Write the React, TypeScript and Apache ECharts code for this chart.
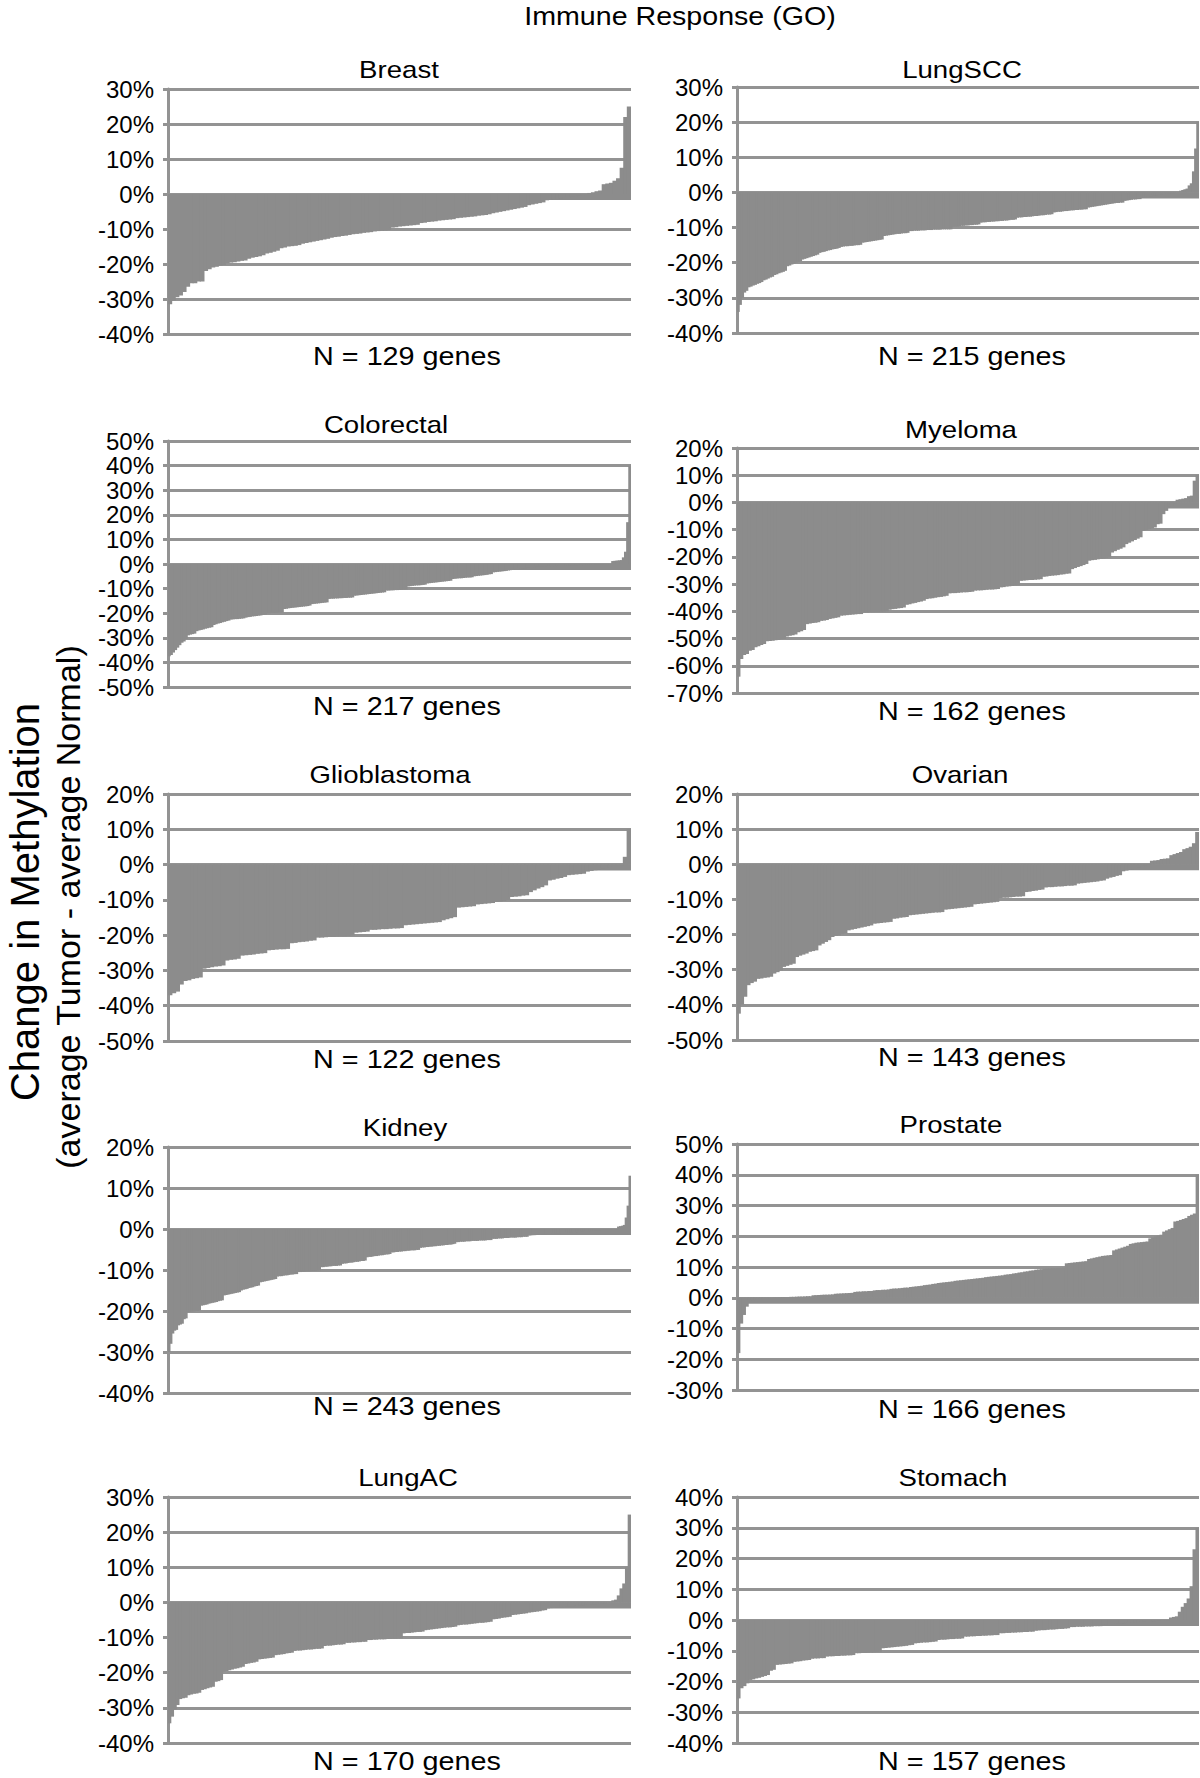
import React, { useEffect, useRef } from "react";
import * as echarts from "echarts";

// ---------- DATA (percent change in methylation, sorted per cancer type) ----------
const breast = [-31.5,-30.5,-29.5,-29,-28,-26.5,
-25.5,-25.5,-25,-25,
-22,-21.5,-21,-20.8,-20.5,-20.3,
-19.8,-19.6,-19.5,-19.3,-19.1,-19,
-18.5,-18.2,-18,-17.8,-17.5,
-17,-16.8,-16.5,-16.2,
-15.5,-15.3,-15,-14.9,-14.8,-14.6,
-14.2,-14,-13.8,-13.6,-13.4,-13.2,-13,-12.8,
-12.5,-12.3,-12.2,-12,-11.9,-11.7,-11.5,-11.4,-11.3,-11.1,
-11,-10.9,-10.7,-10.6,-10.5,-10.4,-10.3,
-9.6,-9.5,-9.3,-9.2,-9.1,-9,-8.9,-8.8,
-8.3,-8.2,-8,-7.9,-7.8,-7.6,-7.5,-7.4,-7.3,-7.2,
-6.9,-6.8,-6.7,-6.6,-6.5,-6.4,-6.2,-6.1,-6,-5.8,
-5.5,-5.3,-5.1,-4.9,-4.7,-4.5,-4.3,-4.1,-3.9,-3.7,
-3.2,-3,-2.8,-2.6,-2.4,
-1.8,-1.6,-1.5,-1.3,-1.2,-1,-0.9,-0.7,-0.6,-0.4,-0.3,-0.1,
0.3,0.5,0.8,1,
2.8,3,3.2,
3.8,4.5,
7.5,22,25];

const lungSCC = [-34,-32,-30,-28.5,-28,
-27,-26.8,
-26.5,-26.3,-26,-25.8,-25.5,
-25,-24.8,-24.5,-24.2,-24,
-23.5,-23.3,-23,-22.8,-22.6,-22.3,
-21,-20.8,-20.5,-20.3,-20,-19.8,-19.6,
-19.1,-18.9,-18.7,-18.5,-18.3,-18.1,-17.9,-17.7,
-17.2,-17,-16.9,-16.7,-16.5,-16.4,-16.2,-16.1,-16,-15.8,
-15.5,-15.4,-15.3,-15.3,-15.2,-15.2,-15.1,-15,-15,-14.9,
-14.3,-14.2,-14.1,-14,-13.9,-13.8,-13.7,-13.6,-13.5,-13.4,
-12.4,-12.3,-12.2,-12.1,-12,-11.9,-11.8,-11.8,-11.7,-11.6,-11.6,-11.5,
-11,-11,-10.9,-10.9,-10.9,-10.8,-10.8,-10.8,-10.7,-10.7,-10.7,-10.6,-10.6,-10.6,-10.6,-10.5,-10.5,-10.5,-10.5,-10.5,
-9.8,-9.7,-9.7,-9.6,-9.5,-9.5,-9.4,-9.4,-9.3,-9.3,-9.2,-9.2,-9.1,
-8.6,-8.5,-8.5,-8.4,-8.4,-8.3,-8.3,-8.2,-8.2,-8.1,-8.1,-8,-8,-7.9,-7.8,-7.8,-7.7,
-7.2,-7.1,-7.1,-7,-7,-6.9,-6.9,-6.8,-6.7,-6.7,-6.6,-6.5,-6.5,-6.4,-6.3,-6.3,-6.2,
-5.7,-5.6,-5.5,-5.5,-5.4,-5.3,-5.3,-5.2,-5.1,-5.1,-5,-5,-4.9,-4.9,-4.8,-4.8,
-4.3,-4.2,-4.1,-4,-3.9,-3.8,-3.7,-3.6,-3.5,-3.4,-3.3,-3.2,-3.1,-3,-3,-2.9,-2.9,
-2.4,-2.3,-2.2,-2.1,-2,-2,-1.9,-1.9,
-1.5,-1.4,-1.3,-1.2,-1.1,-1,-0.9,-0.8,-0.7,-0.6,-0.5,-0.4,-0.3,-0.3,-0.2,-0.2,-0.1,-0.1,
0.5,0.7,0.9,1.1,
2,2.6,
6,12.5,20];

const colorectal = [-37.5,-37,-36,-35,-34,-33,-32,-31.5,-30.5,
-29,-28.7,-28.5,-28.3,
-27.3,-27,-26.8,-26.6,-26.3,-26.1,-25.9,-25.7,
-24.8,-24.5,-24.2,-24,-23.7,-23.5,-23.2,-23,
-22.6,-22.5,-22.4,-22.4,-22.3,-22.2,-22.1,
-21.8,-21.6,-21.5,-21.3,-21.2,-21.1,-21,-20.9,-20.7,-20.6,
-20,-20,-19.9,-19.9,-19.8,-19.8,-19.7,-19.7,
-18.3,-18.2,-18,-17.9,-17.8,-17.7,-17.6,-17.5,-17.4,-17.3,-17.2,-17.1,-16.9,
-16.3,-16.2,-16.1,-16,-15.9,-15.8,-15.7,-15.6,
-14.2,-14.1,-14.1,-14,-14,-13.9,-13.9,-13.8,-13.8,-13.7,-13.7,-13.6,
-12.9,-12.8,-12.7,-12.6,-12.5,-12.4,-12.3,-12.2,-12.1,-12,-11.9,-11.8,-11.7,-11.6,-11.5,
-10.8,-10.8,-10.7,-10.7,-10.6,-10.6,-10.5,-10.5,-10.4,-10.4,
-9.1,-9,-8.9,-8.8,-8.7,-8.7,-8.6,-8.5,-8.4,
-7.9,-7.8,-7.7,-7.6,-7.5,-7.4,-7.3,-7.2,-7.1,-7,-6.9,-6.8,
-6.1,-6,-5.9,-5.8,-5.8,-5.7,-5.6,-5.5,-5.5,-5.4,
-5,-4.9,-4.8,-4.7,-4.6,-4.5,-4.4,-4.2,-4.1,
-3.4,-3.3,-3.2,-3.1,-3,-2.9,-2.8,-2.6,-2.5,-2.4,
-2,-1.9,-1.9,-1.8,-1.7,-1.7,-1.6,-1.5,-1.5,-1.4,
-1.2,-1.15,-1.1,-1.1,-1.05,-1,-1,-0.95,-0.9,-0.9,-0.85,-0.8,-0.8,-0.75,-0.7,-0.7,-0.65,-0.6,
-0.6,-0.55,-0.5,-0.5,-0.45,-0.4,-0.4,-0.35,-0.3,-0.3,-0.25,-0.2,-0.2,-0.15,-0.1,-0.1,-0.05,-0.05,
1.2,1.3,1.4,1.5,1.6,
2.7,5,17,40];

const myeloma = [-64,-57.5,-56,-55.7,-54.5,-54.2,
-53.2,-52.8,-52.4,-52,
-51,-50.9,-50.8,-50.6,-50.5,-50.3,-50.2,
-49.2,-49,-48.8,-48.5,
-47.7,-47.3,-46.9,
-44.7,-44.5,-44.3,-44.2,-44,
-43.5,-43.4,-43.2,
-42.8,-42.6,-42.4,-42.2,
-41.6,-41.5,-41.4,-41.3,-41.2,-41.1,-41,-41,
-40.4,-40.4,-40.3,-40.3,-40.2,-40.2,-40.1,-40.1,-40,
-39.4,-39.2,-39.1,-38.9,-38.8,-38.6,
-37.6,-37.4,-37.1,-36.9,-36.6,-36.4,-36.1,
-35.5,-35.3,-35.2,-35,-34.8,-34.7,-34.5,-34.3,
-33.4,-33.3,-33.3,-33.2,-33.1,-33,-33,-32.9,-32.8,
-32.4,-32.3,-32.3,-32.2,-32.1,-32,-32,-31.9,-31.8,
-31.2,-31.1,-30.9,-30.8,-30.7,-30.5,-30.4,
-28.8,-28.7,-28.6,-28.5,-28.5,-28.4,-28.3,-28.2,
-27.3,-27.2,-27,-26.9,-26.8,-26.7,-26.5,-26.4,-26.2,-26.1,
-24.5,-24.1,-23.7,-23.4,-23,-22.6,
-21.4,-21.2,-21.1,-20.9,-20.7,-20.6,-20.4,-20.2,
-18.4,-17.9,-17.4,-17,-16.5,
-15.3,-14.8,-14.3,-13.8,-13.3,-12.8,
-10.4,-10.1,-9.8,-9.5,-9.2,
-8,-7.8,
-4.3,-3.1,
-1.5,-1,-0.5,
1,1.2,1.4,1.6,
2.3,2.5,
8,10];

const glioblastoma = [-37,-36.5,-36,-34,-33,-32.8,
-32.4,-32.2,-32,
-29.5,-29.3,-29.1,-28.9,-28.8,-28.6,
-27.2,-27,-26.9,-26.7,
-25.8,-25.7,-25.6,-25.5,-25.3,-25.2,-25.1,
-24.3,-24.2,-24.1,-24,-24,-23.9,
-22.3,-22.2,-22,-21.9,-21.8,-21.6,-21.5,
-20.7,-20.7,-20.6,-20.5,-20.5,-20.4,-20.3,-20.3,-20.2,-20.1,
-19.3,-19.2,-19.1,-19,
-18.5,-18.5,-18.4,-18.3,-18.3,-18.2,-18.1,-18.1,-18,
-17.2,-17.1,-17,-16.9,-16.8,-16.7,-16.6,-16.5,-16.4,-16.3,
-15.8,-15.5,-15.2,-14.9,
-12.2,-12.1,-12,-11.9,-11.8,
-11.3,-11.2,-11.1,-11,-10.9,
-10.6,-10.5,-10.3,-10.1,
-9.2,-9.1,-9,-8.8,-8.7,
-7.8,-7.3,-6.8,-6.4,-5.9,
-4.5,-4.3,-4,-3.8,-3.5,
-3,-2.9,-2.8,-2.7,-2.6,
-2,-1.8,-1.6,-1.4,-1.2,-1,-0.8,-0.6,-0.4,-0.2,
2.2,10];

const ovarian = [-42.5,-40,-37.7,-34.4,-33.8,-33.4,
-32.6,-32.5,-32.3,-32.2,-32,
-31.1,-30.7,-30.2,
-29.2,-28.9,-28.6,-28.3,
-26.4,-26,-25.7,-25.4,
-24.9,-24.7,-24.5,
-23.1,-22.6,-22.1,-21.6,
-20.7,-20.4,-20.2,-19.9,-19.7,
-18.8,-18.6,-18.4,-18.2,-18,-17.8,-17.6,-17.4,
-16.9,-16.8,-16.7,-16.6,-16.5,-16.4,
-15.5,-15.4,-15.2,-15.1,-15,
-14.5,-14.4,-14.3,-14.2,-14.1,-14,-13.9,-13.8,-13.7,-13.7,-13.6,
-12.9,-12.8,-12.7,-12.6,-12.5,-12.4,-12.3,-12.2,-12.1,
-11.4,-11.3,-11.2,-11.1,-11,-10.9,-10.8,-10.7,
-9.6,-9.5,-9.5,-9.4,-9.3,-9.2,-9.2,-9.1,
-7.9,-7.8,-7.6,-7.5,-7.3,-7.2,
-6.6,-6.5,-6.5,-6.4,-6.3,-6.3,-6.2,-6.1,-6.1,-6,
-5.5,-5.4,-5.3,-5.2,-5.1,-5,-4.9,-4.7,-4.6,
-4.1,-3.8,-3.6,-3.3,-3.1,
-2,-1.8,-1.6,-1.4,-1.2,-0.9,-0.6,-0.4,-0.2,
1,1.1,1.2,1.5,1.6,1.7,
2.6,2.9,3.2,3.5,
4.3,4.6,
5,6,9.2];

const kidney = [-30,-28,-25.5,-24.8,-24.6,
-23.5,-23.3,-23.1,-22,-21.8,
-20.3,-20.2,-20.1,-20.1,-20,-20,-19.9,
-18.7,-18.6,-18.5,-18.4,-18.2,-18.1,-18,-17.9,-17.8,-17.6,-17.5,-17.4,
-16.2,-16.1,-16,-15.9,-15.8,-15.7,-15.6,-15.5,-15.4,
-15,-14.8,-14.7,-14.6,-14.4,-14.3,-14.2,-14,-13.9,-13.8,
-13,-12.9,-12.8,-12.7,-12.6,-12.5,-12.4,-12.3,-12.2,
-11.6,-11.5,-11.5,-11.4,-11.3,-11.3,-11.2,-11.1,-11.1,-11,-11,
-10.5,-10.5,-10.4,-10.4,-10.3,-10.3,-10.3,-10.2,-10.2,-10.2,-10.1,-10.1,
-9.3,-9.3,-9.2,-9.2,-9.1,-9.1,-9,-9,-9,-8.9,-8.9,
-8.5,-8.4,-8.4,-8.3,-8.2,-8.2,-8.1,-8,-8,-7.9,-7.8,-7.8,-7.7,
-6.9,-6.8,-6.8,-6.7,-6.6,-6.6,-6.5,-6.4,-6.4,-6.3,-6.2,-6.2,-6.1,
-5.7,-5.7,-5.6,-5.6,-5.5,-5.5,-5.4,-5.4,-5.3,-5.3,-5.2,-5.2,-5.2,-5.1,-5.1,
-4.6,-4.5,-4.5,-4.4,-4.4,-4.3,-4.3,-4.2,-4.2,-4.1,-4.1,-4,-4,-3.9,-3.9,-3.8,-3.8,-3.7,-3.6,
-3.2,-3.2,-3.1,-3.1,-3.1,-3,-3,-3,-2.9,-2.9,-2.9,-2.9,-2.8,-2.8,-2.8,-2.8,-2.7,-2.7,-2.7,
-2.4,-2.4,-2.4,-2.3,-2.3,-2.3,-2.2,-2.2,-2.2,-2.1,-2.1,-2.1,-2.1,-2,-2,-2,-1.9,-1.9,-1.9,
-1.6,-1.55,-1.5,-1.5,-1.45,-1.4,-1.4,-1.35,-1.3,-1.3,-1.25,-1.2,-1.2,-1.15,-1.1,-1.1,
-1.05,-1,-1,-0.95,-0.9,-0.9,-0.85,-0.8,-0.8,-0.75,-0.7,-0.7,-0.65,-0.6,-0.6,-0.55,
-0.5,-0.5,-0.45,-0.4,-0.4,-0.35,-0.3,-0.3,-0.25,-0.2,-0.2,-0.15,-0.1,-0.1,-0.05,
0.6,0.7,0.8,1,
2.8,5.7,13];

const prostate = [-18,-8.4,-5.6,-2.9,
-1,-0.8,-0.6,-0.5,-0.4,-0.3,-0.2,-0.1,0,0.05,0.1,0.15,0.2,0.2,0.25,0.3,0.3,0.35,0.4,0.4,0.45,0.5,0.5,
0.8,0.85,0.9,0.95,1,1,1.05,1.1,
1.3,1.35,1.4,1.45,1.5,1.55,1.6,
1.9,2,2,2.1,2.1,2.2,2.2,
2.4,2.5,2.5,2.6,2.6,2.7,
2.9,3,3,3.1,3.2,3.3,3.3,
3.5,3.6,3.7,3.8,3.9,
4.1,4.2,4.3,4.5,4.6,
4.8,4.9,5,5.1,5.2,5.3,
5.5,5.6,5.7,5.8,5.9,6,6.1,6.2,6.3,
6.4,6.5,6.7,6.8,6.9,7,7.1,
7.2,7.3,7.5,7.6,7.7,7.9,
8,8.2,8.3,8.5,8.6,8.8,8.9,
9.1,9.2,9.3,9.4,9.5,9.5,9.6,9.6,9.7,9.7,9.8,
11.2,11.3,11.4,11.5,11.6,11.7,11.8,11.9,
12.6,12.8,13,13.2,13.4,13.6,13.7,13.8,13.9,
15.4,15.7,16,16.3,16.6,16.9,
17.5,17.7,17.9,18,18.1,18.2,18.3,
19.3,19.6,19.9,20.2,20.5,
21.5,21.9,22.3,22.7,
24.8,25,25.3,25.6,25.9,
26.6,27,27.4,
40];

const lungAC = [-34.4,-32.5,-30.5,-29.2,
-27.5,-27.3,-27.1,
-26.4,-26.2,-26,-25.9,-25.7,
-24.9,-24.7,-24.4,-24.2,-24,
-22.6,-22.4,-22.1,
-19.7,-19.5,-19.3,-19.1,-18.9,-18.7,-18.5,-18.3,
-17.5,-17.4,-17.2,-17.1,-16.9,
-16.2,-16.1,-16,-15.9,-15.8,-15.7,
-15,-14.9,-14.8,-14.7,-14.5,-14.4,-14.3,
-13.8,-13.7,-13.7,-13.6,-13.5,-13.4,-13.4,-13.3,-13.2,-13.2,-13.1,
-12.4,-12.3,-12.3,-12.2,-12.1,-12,-12,-11.9,
-11.5,-11.5,-11.4,-11.4,-11.3,-11.3,-11.2,-11.2,
-10.7,-10.7,-10.6,-10.6,-10.5,-10.5,-10.5,-10.4,-10.4,-10.3,-10.3,-10.2,-10.2,
-8.8,-8.7,-8.7,-8.6,-8.5,-8.4,-8.4,-8.3,
-7.9,-7.8,-7.7,-7.6,-7.5,-7.4,-7.3,-7.2,-7.1,-7.1,-7,-6.9,
-6.5,-6.4,-6.3,-6.3,-6.2,-6.1,-6,-5.9,-5.8,-5.8,-5.7,-5.6,-5.5,
-4.8,-4.7,-4.6,-4.4,-4.3,-4.2,-4.1,
-3.6,-3.5,-3.4,-3.3,-3.2,-3.1,-2.9,-2.8,-2.7,-2.6,-2.5,-2.3,-2.2,
-1.7,-1.6,-1.55,-1.5,-1.4,-1.35,-1.3,-1.2,-1.15,-1.1,-1,-0.95,
-0.9,-0.8,-0.75,-0.7,-0.6,-0.55,-0.5,-0.4,-0.3,-0.2,-0.1,-0.05,
0.6,0.8,2,4,5.4,10,25];

const stomach = [-25.5,-22.2,-21.5,-20.6,
-19.5,-19.3,
-19,-18.8,-18.5,-18.2,-17.9,
-16.5,-16.2,
-14.6,-14.5,-14.4,-14.3,-14.2,-14.1,
-13.6,-13.5,-13.4,-13.2,-13.1,-13,
-12.6,-12.5,-12.5,-12.4,-12.4,
-11.9,-11.8,-11.8,-11.7,-11.7,-11.6,-11.6,-11.5,-11.5,-11.4,
-10.8,-10.8,-10.7,-10.7,-10.6,-10.5,-10.5,-10.4,-10.3,
-9.2,-9.1,-9,-8.9,-8.8,-8.7,-8.6,-8.5,-8.4,-8.2,-8.1,
-7.6,-7.5,-7.4,-7.3,-7.3,-7.2,-7.1,-7,
-6.5,-6.4,-6.4,-6.3,-6.2,-6.2,-6.1,-6.1,-6,
-5.4,-5.4,-5.3,-5.3,-5.2,-5.2,-5.1,-5.1,-5,-5,-4.9,-4.9,
-4.3,-4.3,-4.2,-4.2,-4.1,-4.1,-4,-4,-3.9,-3.9,-3.8,-3.8,
-3.5,-3.4,-3.3,-3.3,-3.2,-3.1,-3.1,-3,-2.9,-2.9,-2.8,-2.7,
-2.3,-2.3,-2.2,-2.2,-2.2,-2.1,-2.1,-2.1,-2,-2,-2,
-1.5,-1.4,-1.35,-1.3,-1.2,-1.15,-1.1,-1,-0.95,-0.9,-0.8,-0.75,
-0.7,-0.6,-0.55,-0.5,-0.4,-0.35,-0.3,-0.2,-0.15,-0.1,-0.05,
0.8,1,1.2,2.7,4.3,5.5,7,11,23,30];

const panelNames = ["Breast", "LungSCC", "Colorectal", "Myeloma", "Glioblastoma", "Ovarian", "Kidney", "Prostate", "LungAC", "Stomach"];
const geneLabels = ["N = 129 genes", "N = 215 genes", "N = 217 genes", "N = 162 genes", "N = 122 genes", "N = 143 genes", "N = 243 genes", "N = 166 genes", "N = 170 genes", "N = 157 genes"];
const seriesData = [breast, lungSCC, colorectal, myeloma, glioblastoma, ovarian, kidney, prostate, lungAC, stomach];
const axisMin = [-40, -40, -50, -70, -50, -50, -40, -30, -40, -40];
const axisMax = [30, 30, 50, 20, 20, 20, 20, 50, 30, 40];
const mainTitle = "Immune Response (GO)";
const yTitle1 = "Change in Methylation";
const yTitle2 = "(average Tumor - average Normal)";

// ---------- LAYOUT (pixels) ----------
const layout = [
  { left: 168, right: 631, top: 89, bottom: 334, tx: 399, ty: 70, nx: 407, ny: 357 },
  { left: 737, right: 1199, top: 87, bottom: 333, tx: 962, ty: 70, nx: 972, ny: 357 },
  { left: 168, right: 631, top: 441, bottom: 687, tx: 386, ty: 425, nx: 407, ny: 707 },
  { left: 737, right: 1199, top: 448, bottom: 693, tx: 961, ty: 430, nx: 972, ny: 712 },
  { left: 168, right: 631, top: 794, bottom: 1041, tx: 390, ty: 775, nx: 407, ny: 1060 },
  { left: 737, right: 1199, top: 794, bottom: 1040, tx: 960, ty: 775, nx: 972, ny: 1058 },
  { left: 168, right: 631, top: 1147, bottom: 1393, tx: 405, ty: 1128, nx: 407, ny: 1407 },
  { left: 737, right: 1199, top: 1144, bottom: 1390, tx: 951, ty: 1125, nx: 972, ny: 1410 },
  { left: 168, right: 631, top: 1497, bottom: 1743, tx: 408, ty: 1478, nx: 407, ny: 1762 },
  { left: 737, right: 1199, top: 1497, bottom: 1743, tx: 953, ty: 1478, nx: 972, ny: 1762 },
];

const FONT = '"Liberation Sans", Arial, Helvetica, sans-serif';
const BAR = "#8c8c8c";
const LINE = "#939393";
const TEXT = "#000000";

function textEl(text: string, x: number, y: number, fontSize: number, scaleX = 1, rotation = 0) {
  return {
    type: "text",
    x,
    y,
    scaleX,
    rotation,
    silent: true,
    style: {
      text,
      fontSize,
      fontFamily: FONT,
      fill: TEXT,
      align: "center",
      verticalAlign: "middle",
      textAlign: "center",
      textVerticalAlign: "middle",
    },
  };
}

export default function App() {
  const ref = useRef<HTMLDivElement>(null);

  useEffect(() => {
    if (!ref.current) return;
    const chart = echarts.init(ref.current, undefined, { renderer: "svg" });

    const grids = layout.map((l) => ({
      left: l.left,
      top: l.top,
      width: l.right - l.left,
      height: l.bottom - l.top,
      containLabel: false,
    }));

    const xAxes = seriesData.map((d, i) => ({
      type: "category",
      gridIndex: i,
      data: d.map((_, k) => String(k + 1)),
      show: false,
      boundaryGap: true,
    }));

    const yAxes = seriesData.map((_, i) => ({
      type: "value",
      gridIndex: i,
      min: axisMin[i],
      max: axisMax[i],
      interval: 10,
      axisLine: { show: true, onZero: false, lineStyle: { color: LINE, width: 3 } },
      axisTick: { show: true, length: 5, lineStyle: { color: LINE, width: 3 } },
      splitLine: { show: true, lineStyle: { color: LINE, width: 3 } },
      axisLabel: {
        formatter: (v: number) => `${v}%`,
        fontSize: 24,
        fontFamily: FONT,
        color: TEXT,
        margin: 14,
      },
    }));

    const series = seriesData.map((d, i) => {
      const l = layout[i];
      const pxToVal = (axisMax[i] - axisMin[i]) / (l.bottom - l.top);
      // slightly wider than one category band so neighbouring bars overlap (no seams)
      const bandPx = (l.right - l.left) / d.length;
      return {
        type: "bar",
        xAxisIndex: i,
        yAxisIndex: i,
        data: d,
        barWidth: bandPx + 1.2,
        silent: true,
        itemStyle: { color: BAR },
        markArea: {
          silent: true,
          itemStyle: { color: BAR, opacity: 1 },
          data: [[{ yAxis: 0 }, { yAxis: -6 * pxToVal }]],
        },
      };
    });

    const graphics: any[] = [textEl(mainTitle, 680, 16, 26, 1.1)];
    layout.forEach((l, i) => {
      graphics.push(textEl(panelNames[i], l.tx, l.ty, 24, 1.15));
      graphics.push(textEl(geneLabels[i], l.nx, l.ny, 25, 1.15));
    });
    graphics.push(textEl(yTitle1, 25, 902, 40, 1, Math.PI / 2));
    graphics.push(textEl(yTitle2, 68, 907, 34, 1, Math.PI / 2));

    chart.setOption({
      animation: false,
      backgroundColor: "#ffffff",
      grid: grids,
      xAxis: xAxes,
      yAxis: yAxes,
      series,
      graphic: { elements: graphics },
    });

    return () => chart.dispose();
  }, []);

  return (
    <div
      ref={ref}
      style={{ position: "absolute", left: 0, top: 0, width: 1200, height: 1778, background: "#fff" }}
    />
  );
}
